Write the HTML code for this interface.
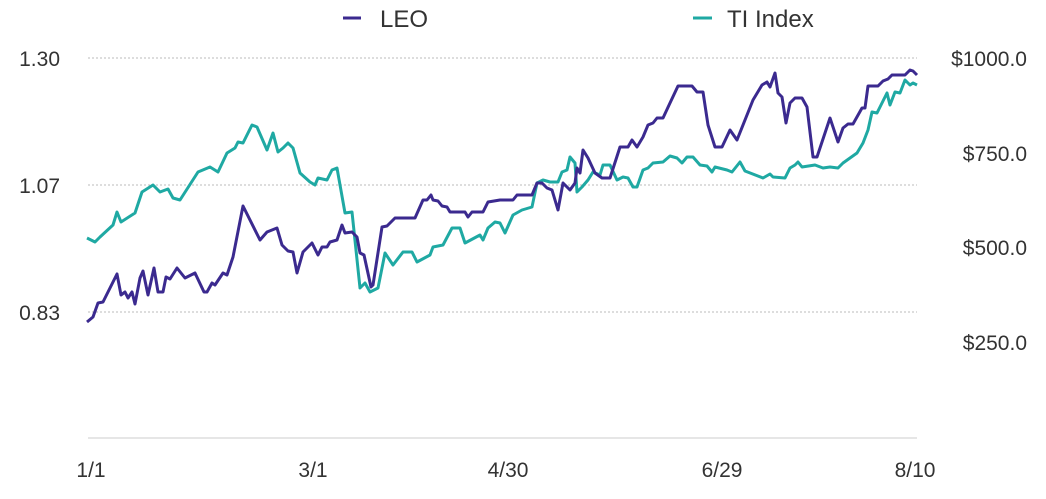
<!DOCTYPE html>
<html><head><meta charset="utf-8"><style>
body{margin:0;background:#fff;}
svg text{font-family:"Liberation Sans",sans-serif;fill:#333;}
</style></head><body>
<svg width="1046" height="494" xmlns="http://www.w3.org/2000/svg">
<g stroke="#bbb" stroke-width="1" stroke-dasharray="2,2">
<line x1="88" y1="58" x2="917" y2="58"/>
<line x1="88" y1="185" x2="917" y2="185"/>
<line x1="88" y1="312" x2="917" y2="312"/>
</g>
<line x1="88" y1="438" x2="917" y2="438" stroke="#ccc" stroke-width="1"/>
<g font-size="21">
<text x="60" y="66" text-anchor="end">1.30</text>
<text x="60" y="193" text-anchor="end">1.07</text>
<text x="60" y="320" text-anchor="end">0.83</text>
<text x="1027" y="66" text-anchor="end">$1000.0</text>
<text x="1027" y="161" text-anchor="end">$750.0</text>
<text x="1027" y="255" text-anchor="end">$500.0</text>
<text x="1027" y="350" text-anchor="end">$250.0</text>
<text x="91" y="477" text-anchor="middle">1/1</text>
<text x="313" y="477" text-anchor="middle">3/1</text>
<text x="508" y="477" text-anchor="middle">4/30</text>
<text x="722" y="477" text-anchor="middle">6/29</text>
<text x="915" y="477" text-anchor="middle">8/10</text>
</g>
<line x1="343" y1="18" x2="361" y2="18" stroke="#3b2a8f" stroke-width="3"/>
<text x="380" y="27" font-size="24">LEO</text>
<line x1="693" y1="18" x2="712" y2="18" stroke="#1fa9a3" stroke-width="3"/>
<text x="727" y="27" font-size="24">TI Index</text>
<polyline fill="none" stroke="#1fa9a3" stroke-width="3" stroke-linejoin="round" points="87,238 95,242 100,237 113,225 117,212 121,222 135,213 142,192 153,185 160,192 168,189 173,198 180,200 198,172 210,167 218,172 227,153 235,148 238,142 243,143 252,125 257,127 267,150 273,133 278,152 283,148 288,143 293,148 300,173 310,182 315,185 318,178 327,180 332,170 337,168 345,213 352,212 360,288 365,283 370,292 378,288 385,253 393,265 403,252 412,252 417,262 430,255 433,247 443,245 452,228 460,228 465,243 480,235 483,240 488,228 495,222 500,223 505,233 513,215 522,210 532,207 537,183 543,180 550,182 558,182 562,172 567,170 570,157 575,163 577,192 582,187 588,180 593,172 600,175 603,165 610,165 617,180 623,177 628,178 633,187 637,187 643,170 648,168 653,163 663,162 670,156 677,158 682,163 687,157 693,157 700,165 707,166 712,172 715,167 727,170 732,172 740,162 745,171 763,178 770,174 773,177 785,178 790,168 795,165 798,162 802,167 815,165 823,168 830,167 838,168 843,163 850,158 857,153 863,143 868,130 872,112 877,113 887,93 890,105 895,92 900,93 905,80 910,85 913,83 917,85"/>
<polyline fill="none" stroke="#3b2a8f" stroke-width="3" stroke-linejoin="round" points="87,322 93,317 98,303 103,302 117,274 121,295 125,292 128,298 132,292 135,304 140,278 143,271 148,295 154,268 158,292 163,292 166,277 170,279 177,268 185,278 195,273 204,292 207,292 212,283 215,285 223,273 227,275 233,257 243,206 260,240 267,232 277,228 282,245 288,251 293,252 297,273 303,252 312,243 318,255 322,247 327,247 330,242 337,240 342,225 345,233 352,232 357,237 360,253 364,255 371,287 373,285 382,227 387,226 395,218 415,218 423,200 427,200 431,195 433,200 438,201 442,206 447,207 450,212 465,212 468,217 472,212 483,212 488,202 500,200 513,200 517,195 532,195 537,183 542,183 547,188 552,190 558,210 563,183 570,190 575,183 577,168 580,173 583,150 588,158 595,173 602,178 610,178 620,147 628,147 632,140 637,147 643,137 648,125 653,123 657,118 663,118 670,103 678,86 692,86 697,92 703,92 708,125 715,147 722,147 730,130 737,140 753,100 762,85 767,82 770,87 775,73 778,93 782,97 786,123 790,103 795,98 802,98 807,107 813,157 817,157 830,118 838,142 843,128 848,124 853,124 862,108 865,108 868,86 878,86 883,81 888,79 892,75 905,75 910,70 913,71 917,75"/>
</svg>
</body></html>
